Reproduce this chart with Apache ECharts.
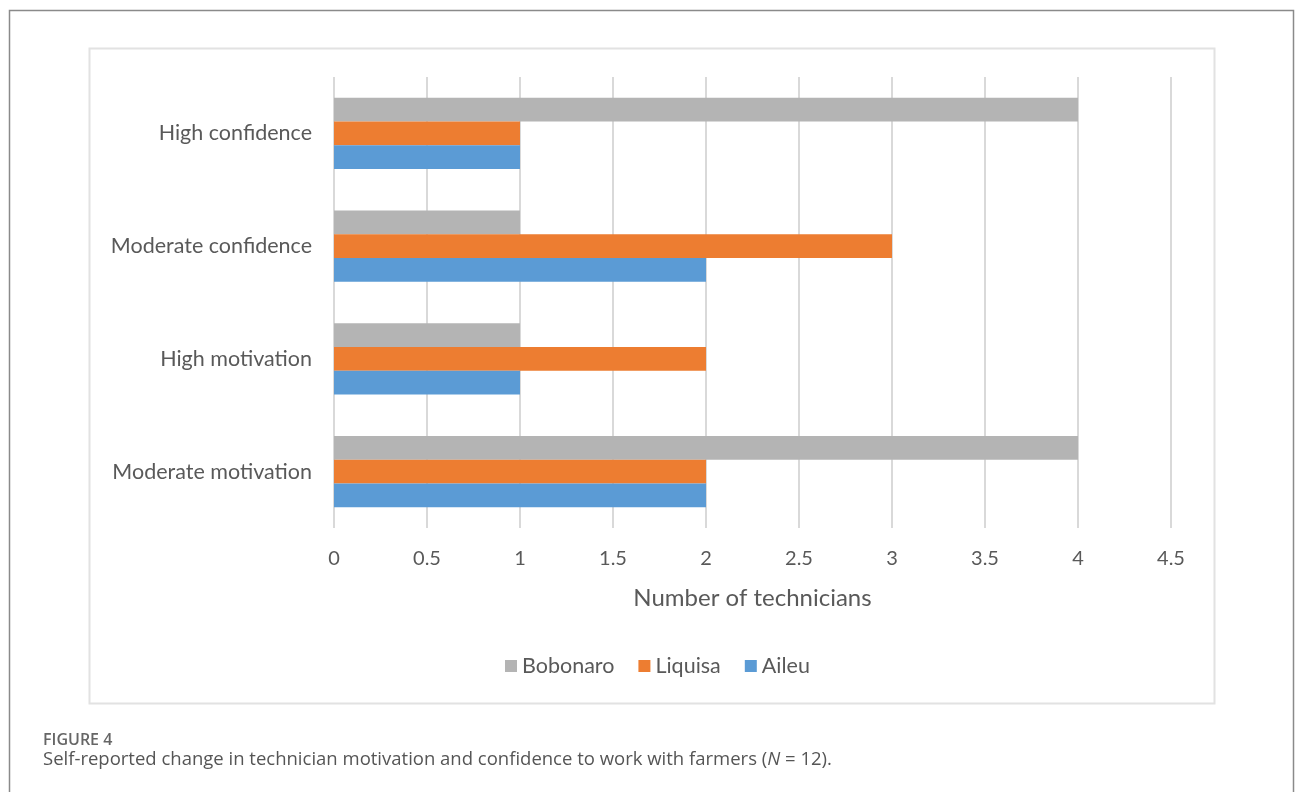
<!DOCTYPE html>
<html>
<head>
<meta charset="utf-8">
<script src="https://cdn.jsdelivr.net/npm/echarts@6/dist/echarts.min.js"></script>
<style>
  html, body { margin: 0; padding: 0; background: #fff; }
  #chart { width: 1295px; height: 792px; }
</style>
</head>
<body>
<div id="chart"></div>
<script>
// categories, bottom to top
const categories = ["Moderate motivation", "High motivation", "Moderate confidence", "High confidence"];
const bobonaro = [4, 1, 1, 4];
const liquisa = [2, 2, 3, 1];
const aileu = [2, 1, 2, 1];

const labelColor = "#595959";
const chartFont = "Lato";

const chart = echarts.init(document.getElementById("chart"));

// one bar series
function makeBar(name, data, color) {
  return {
    name: name,
    type: "bar",
    data: data,
    barGap: "0%",
    barCategoryGap: "37%",
    itemStyle: { color: color },
    emphasis: { disabled: true },
  };
}

chart.setOption({
  animation: false,
  textStyle: { fontFamily: chartFont },
  grid: { left: 334, right: 124, top: 77, bottom: 264, containLabel: false },
  xAxis: {
    type: "value",
    min: 0,
    max: 4.5,
    interval: 0.5,
    name: "Number of technicians",
    nameLocation: "middle",
    nameGap: 58,
    nameTextStyle: { fontSize: 24, color: labelColor, fontFamily: chartFont },
    axisLine: { show: false },
    axisTick: { show: false },
    axisLabel: { fontSize: 20, color: labelColor, margin: 21, fontFamily: chartFont },
    splitLine: { show: true, lineStyle: { color: "#d9d9d9", width: 2 } },
  },
  yAxis: {
    type: "category",
    data: categories,
    axisLine: { show: false },
    axisTick: { show: false },
    axisLabel: { fontSize: 21.5, color: labelColor, margin: 22, fontFamily: chartFont },
  },
  legend: {
    left: 500,
    top: 650,
    itemWidth: 12,
    itemHeight: 12,
    itemGap: 24,
    icon: "rect",
    textStyle: { fontSize: 21.5, color: labelColor, fontFamily: chartFont },
  },
  graphic: [
    {
      type: "rect",
      shape: { x: 9.5, y: 10.5, width: 1284, height: 800 },
      style: { fill: "none", stroke: "#8a8a8a", lineWidth: 1.5 },
      silent: true,
    },
    {
      type: "rect",
      shape: { x: 89.5, y: 48.5, width: 1125, height: 655 },
      style: { fill: "none", stroke: "#e2e2e2", lineWidth: 2 },
      silent: true,
    },
    {
      type: "text",
      left: 43,
      top: 732,
      style: { text: "FIGURE 4", font: "600 16px 'Open Sans'", fill: "#666666" },
    },
    {
      type: "text",
      left: 43,
      top: 750,
      style: {
        text: "Self-reported change in technician motivation and confidence to work with farmers ({i|N} = 12).",
        font: "18.5px 'Open Sans'",
        fill: "#555555",
        rich: { i: { fontStyle: "italic", fontSize: 18.5, fontFamily: "Open Sans", fill: "#555555" } },
      },
    },
  ],
  series: [
    makeBar("Bobonaro", bobonaro, "#b4b4b4"),
    makeBar("Liquisa", liquisa, "#ed7d31"),
    makeBar("Aileu", aileu, "#5b9bd5"),
  ],
});
</script>
</body>
</html>
